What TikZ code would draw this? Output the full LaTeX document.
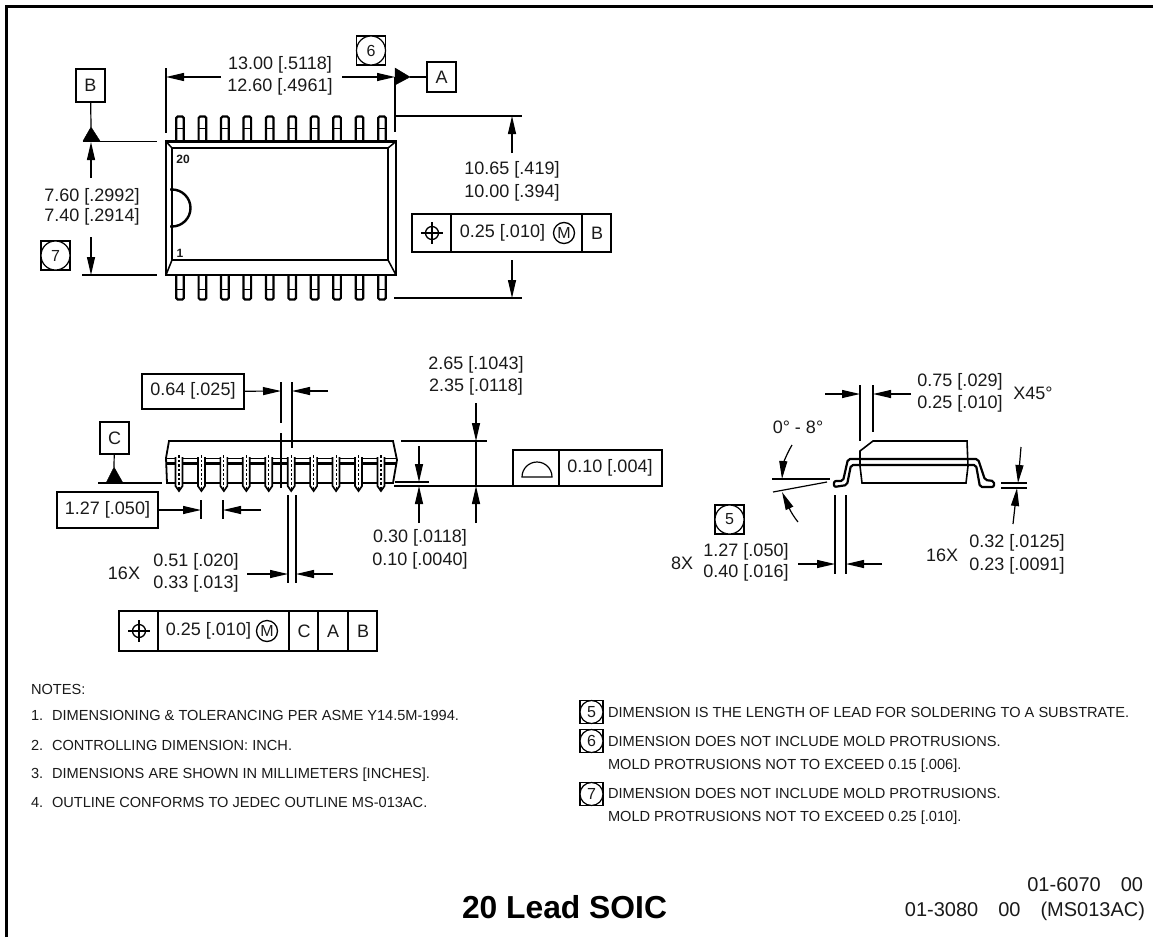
\documentclass[tikz,border=0pt]{standalone}
\usepackage{fontspec}
\setmainfont{Liberation Sans}
\usetikzlibrary{arrows.meta}
\definecolor{ink}{HTML}{1A1A1A}
\tikzset{
  x=1pt,y=-1pt,
  every node/.style={inner sep=0pt,outer sep=0pt,text=ink},
  dimt/.style={font=\fontsize{18}{18}\selectfont,anchor=center},
  notet/.style={font=\fontsize{14.6}{15}\selectfont,anchor=west,text height=10.5pt,text depth=3pt},
  thin line/.style={draw=black,line width=1.1pt},
  dimline/.style={draw=black,line width=1.2pt},
  arr/.style={dimline,-{Triangle[length=18pt,width=8pt,fill=black]}},
  thick line/.style={draw=black,line width=2.2pt},
  heavy/.style={draw=black,line width=2.8pt,line join=miter},
  framebox/.style={draw=black,line width=1.2pt,minimum width=#1,font=\fontsize{18}{18}\selectfont},
  framebox/.default=29pt,
  datum/.style={draw=black,fill=black,line width=0.4pt},
  mcirc/.style={draw=black,circle,line width=1.3pt,minimum size=21pt,font=\fontsize{16}{16}\selectfont},
}
\newcommand{\callout}[5]{% name,x,y,size,digit
  \node[draw=black,line width=1.2pt,minimum width=#4 pt,minimum height=#4 pt] (#1) at (#2,#3) {};
  \node[draw=black,fill=white,circle,line width=1.2pt,minimum size=#4 pt,font=\fontsize{16}{16}\selectfont] (#1c) at (#2,#3) {#5};
}
\newcommand{\topleads}{\foreach \i in {0,...,9}{
  \pgfmathsetmacro{\lx}{180+22.44*\i}
  \draw[thick line,rounded corners=1.5pt] (\lx-3.8,141) -- (\lx-3.8,116.5) -- (\lx+3.8,116.5) -- (\lx+3.8,141);
  \draw[thin line] (\lx-3.8,128.5) -- (\lx+3.8,128.5);
  \draw[thick line,rounded corners=1.5pt] (\lx-3.8,275) -- (\lx-3.8,299.5) -- (\lx+3.8,299.5) -- (\lx+3.8,275);
  \draw[thin line] (\lx-3.8,289.5) -- (\lx+3.8,289.5);
}}
\newcommand{\sideleads}{\foreach \i in {0,...,9}{
  \pgfmathsetmacro{\lx}{179+22.44*\i}
  \draw[thick line,fill=white,line width=1.7pt] (\lx-3.5,457) -- (\lx-3.5,486) -- (\lx,491) -- (\lx+3.5,486) -- (\lx+3.5,457);
  \draw[thin line,dashed,dash pattern=on 2.5pt off 2pt] (\lx,455) -- (\lx,490);
}}
\newcommand{\datumsym}[2]{% x,y
  \draw[thin line,line width=1.3pt] (#1,#2) circle (6.5);
  \draw[thin line] (#1-11,#2) -- (#1+11,#2) (#1,#2-11) -- (#1,#2+11);
}
\begin{document}
\begin{tikzpicture}
\useasboundingbox (0,0) rectangle (1153,937);
\fill[white] (0,0) rectangle (1153,937);
\draw[draw=black,line width=2.2pt] (6.5,937) -- (6.5,6.5) -- (1153,6.5);

%% ---------- top view
\topleads
\draw[heavy] (166,141.5) rectangle (396,275);
\draw[thin line,line width=1.8pt] (172,148) rectangle (388,260);
\draw[thin line,line width=1.5pt] (166,141.5) -- (172,148) (396,141.5) -- (388,148) (172,260) -- (166,275) (388,260) -- (396,275);
\draw[thick line,line width=2.4pt] (170,189.5) -- (172,189.5) arc[start angle=-90,end angle=90,radius=18.5] -- (170,226.5);
\node[font=\fontsize{12}{12}\selectfont\bfseries] (pinb) at (183,159) {20};
\node[font=\fontsize{12}{12}\selectfont\bfseries] (pina) at (180,253) {1};

\node[framebox,minimum height=33pt] (B) at (90.5,85.5) {B};
\coordinate (Bt) at (91,127);
\draw[dimline] (B) -- (Bt);
\draw[datum] (Bt) -- (83,141) -- (100,141) -- cycle;
\draw[dimline] (83,141.5) -- (157,141.5);
\node[dimt] (d760) at (92,197) {7.60 [.2992]};
\node[dimt] (d740) at (92,217) {7.40 [.2914]};
\draw[arr] (91,178) -- (91,142);
\draw[arr] (91,237) -- (91,275);
\draw[dimline] (82,275) -- (157,275);
\callout{n7}{55.5}{255.5}{29}{7}

\draw[dimline] (166,68) -- (166,133);
\node[dimt] (d1300) at (280,65) {13.00 [.5118]};
\node[dimt] (d1260) at (280,87) {12.60 [.4961]};
\draw[arr] (221,77) -- (166,77);
\draw[arr] (342,77) -- (395,77);
\node[framebox,minimum height=30pt] (A) at (441.5,77) {A};
\coordinate (Ab) at (410,77);
\draw[dimline] (Ab) -- (A);
\draw[datum] (Ab) -- (395,68) -- (395,85) -- cycle;
\draw[dimline] (395,77) -- (395,132);
\callout{n6}{371}{50.5}{29}{6}

\draw[dimline] (395,116) -- (522,116);
\draw[dimline] (394,298) -- (522,298);
\draw[arr] (512,153) -- (512,116);
\draw[arr] (512,260) -- (512,298);
\node[dimt] (d1065) at (512,170) {10.65 [.419]};
\node[dimt] (d1000) at (512,193) {10.00 [.394]};

\draw[dimline] (412,214) rectangle (611,252) (451,214) -- (451,252) (582,214) -- (582,252);
\datumsym{432}{233}
\node[dimt] (t025a) at (502.5,233) {0.25 [.010]};
\node[mcirc] (ma) at (564,233) {M};
\node[dimt] (fb) at (597,233) {B};

%% ---------- side view
\draw[heavy,line width=1.8pt] (167,483) -- (166,458) -- (169,441) -- (393,441) -- (397,460) -- (393,483) -- cycle;
\draw[thick line,line width=1.7pt] (166,458.5) -- (397,458.5);
\draw[thick line,line width=2.6pt] (166,463.5) -- (397,463.5);
\sideleads

\node[framebox,minimum width=102pt,minimum height=35pt] (b064) at (193,391.5) {};
\node[dimt] (t064) at (193,391) {0.64 [.025]};
\coordinate (e064a) at (281,391);
\coordinate (e064b) at (292,391);
\draw[arr] (b064) -- (e064a);
\draw[arr] (328,391) -- (e064b);
\draw[dimline] (281,382) -- (281,423) (281,433) -- (281,488);
\draw[dimline] (292,382) -- (292,448);

\node[framebox,minimum height=32pt] (C) at (114.5,438) {C};
\coordinate (Cb) at (114,467);
\draw[dimline] (C) -- (Cb);
\draw[datum] (Cb) -- (106,483) -- (123,483) -- cycle;
\draw[dimline] (98,483) -- (162,483);

\node[framebox,minimum width=101pt,minimum height=36pt] (b127) at (107.5,510) {};
\node[dimt] (t127) at (107.5,510) {1.27 [.050]};
\draw[arr] (b127) -- (201,510);
\draw[arr] (261,510) -- (223,510);
\draw[dimline] (201,500) -- (201,519) (223,500) -- (223,519);

\draw[dimline] (288,495) -- (288,583) (296,495) -- (296,583);
\draw[arr] (247,574) -- (288,574);
\draw[arr] (333,574) -- (296,574);
\node[dimt] (d051) at (196,562) {0.51 [.020]};
\node[dimt] (d033) at (196,584) {0.33 [.013]};
\node[dimt] (x16a) at (124,573) {16X};

\draw[dimline] (119,611) rectangle (377,651) (158,611) -- (158,651) (289,611) -- (289,651) (318,611) -- (318,651) (348,611) -- (348,651);
\datumsym{139}{631}
\node[dimt] (t025b) at (208.5,631) {0.25 [.010]};
\node[mcirc] (mb) at (267,631) {M};
\node[dimt] (fc) at (304,631) {C};
\node[dimt] (fa) at (333,631) {A};
\node[dimt] (fbb) at (363,631) {B};

\node[dimt] (d265) at (476,365) {2.65 [.1043]};
\node[dimt] (d235) at (476,387) {2.35 [.0118]};
\draw[dimline] (401,441) -- (487,441);
\draw[arr] (476,403) -- (476,441);
\draw[arr] (476,523) -- (476,486);
\draw[dimline] (476,441) -- (476,486);
\draw[dimline] (394,486) -- (513,486);
\draw[dimline] (395,482) -- (429,482);
\draw[arr] (419,446) -- (419,482);
\draw[arr] (419,523) -- (419,486);
\node[dimt] (d030) at (420,538) {0.30 [.0118]};
\node[dimt] (d010) at (420,561) {0.10 [.0040]};

\draw[dimline] (513,450) rectangle (662,486) (559,450) -- (559,486);
\draw[thin line,line width=1.2pt] (522,477) arc[start angle=180,end angle=360,radius=15] -- cycle;
\node[dimt] (t010) at (610,468) {0.10 [.004]};

%% ---------- end view
\draw[dimline,line width=1.6pt] (860,451) -- (873,441) -- (967,441) -- (968,466) -- (966,483) -- (862,483) -- (860,466) -- cycle;
\draw[thick line,line join=round,rounded corners=2pt] (978,459) -- (848,459) -- (843,481) -- (834,481) -- (834,487) -- (847,485) -- (851,465) -- (976,465) -- (980,487) -- (994,487) -- (994,481) -- (985,480) -- cycle;

\node[dimt] (d075) at (960,382) {0.75 [.029]};
\node[dimt] (d025) at (960,404) {0.25 [.010]};
\node[dimt] (x45) at (1033,393) {X45°};
\draw[arr] (825,394) -- (860,394);
\draw[arr] (911,394) -- (873,394);
\draw[dimline] (860,385) -- (860,441) (873,385) -- (873,432);

\node[dimt] (ang) at (798,427) {0° - 8°};
\draw[dimline] (772,479) -- (830,479);
\draw[dimline] (773,492) -- (827,482);
\draw[arr] (792,445) .. controls (786,455) and (783,465) .. (782,479);
\draw[arr] (798,522) .. controls (790,512) and (788,505) .. (782,492);
\callout{n5}{729.5}{519.5}{29}{5}

\node[dimt] (d127) at (746,552) {1.27 [.050]};
\node[dimt] (d040) at (746,573) {0.40 [.016]};
\node[dimt] (x8) at (682,563) {8X};
\draw[dimline] (835,495) -- (835,574) (846,495) -- (846,574);
\draw[arr] (798,564) -- (835,564);
\draw[arr] (882,564) -- (846,564);

\draw[dimline] (1001,483) -- (1027,483) (1001,488) -- (1027,488);
\draw[arr] (1021,447) -- (1018,483);
\draw[arr] (1013,524) -- (1017,488);
\node[dimt] (d032) at (1017,543) {0.32 [.0125]};
\node[dimt] (d023) at (1017,566) {0.23 [.0091]};
\node[dimt] (x16b) at (942,555) {16X};

%% ---------- notes
\node[notet] (nh) at (31,691) {NOTES:};
\node[notet] (n1a) at (31,717) {1.};
\node[notet] (n1) at (52,717) {DIMENSIONING \& TOLERANCING PER ASME Y14.5M-1994.};
\node[notet] (n2a) at (31,747) {2.};
\node[notet] (n2) at (52,747) {CONTROLLING DIMENSION: INCH.};
\node[notet] (n3a) at (31,775) {3.};
\node[notet] (n3) at (52,775) {DIMENSIONS ARE SHOWN IN MILLIMETERS [INCHES].};
\node[notet] (n4a) at (31,804) {4.};
\node[notet] (n4) at (52,804) {OUTLINE CONFORMS TO JEDEC OUTLINE MS-013AC.};

\callout{s5}{591.5}{712}{23}{5}
\node[notet] (r5) at (608,714) {DIMENSION IS THE LENGTH OF LEAD FOR SOLDERING TO A SUBSTRATE.};
\callout{s6}{591.5}{741}{23}{6}
\node[notet] (r6a) at (608,743) {DIMENSION DOES NOT INCLUDE MOLD PROTRUSIONS.};
\node[notet] (r6b) at (608,766) {MOLD PROTRUSIONS NOT TO EXCEED 0.15 [.006].};
\callout{s7}{591.5}{794}{23}{7}
\node[notet] (r7a) at (608,795) {DIMENSION DOES NOT INCLUDE MOLD PROTRUSIONS.};
\node[notet] (r7b) at (608,818) {MOLD PROTRUSIONS NOT TO EXCEED 0.25 [.010].};

%% ---------- title
\node[font=\fontsize{31.8}{32}\selectfont\bfseries,text=black,anchor=center] (title) at (564.5,907) {20 Lead SOIC};
\node[font=\fontsize{20}{20}\selectfont,anchor=east] (c1) at (1143,885) {01-6070\hspace{1em}00};
\node[font=\fontsize{20}{20}\selectfont,anchor=east] (c2) at (1145,911) {01-3080\hspace{1em}00\hspace{1em}(MS013AC)};
\end{tikzpicture}
\end{document}
